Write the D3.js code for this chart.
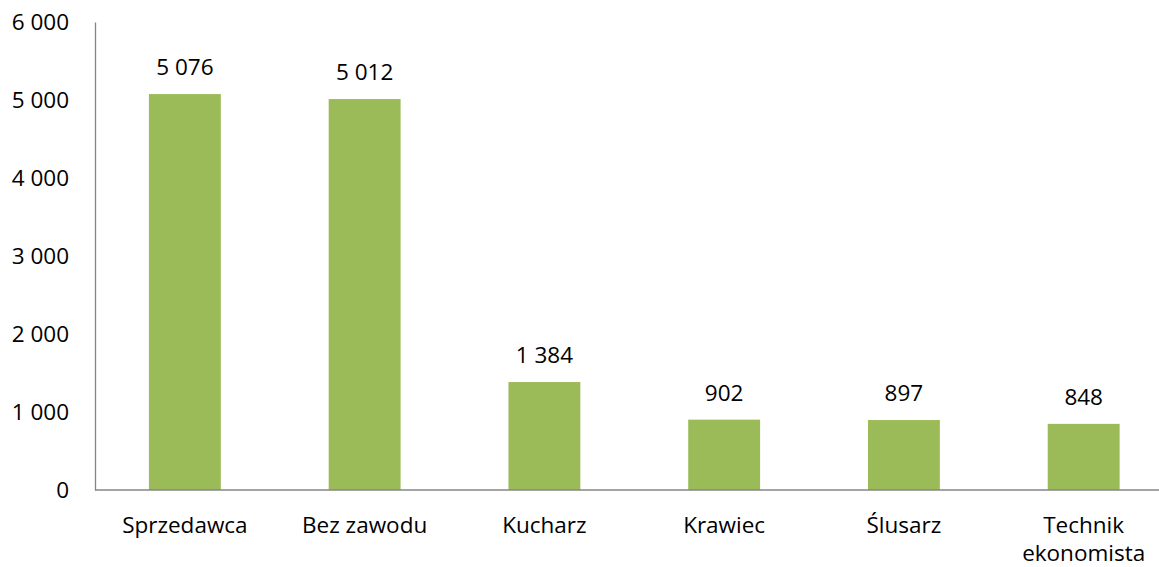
<!DOCTYPE html>
<html><head><meta charset="utf-8">
<script src="https://cdn.jsdelivr.net/npm/d3@7"></script>
<style>body{margin:0;background:#fff}svg{display:block}text{font-family:"Open Sans",Lato,sans-serif;fill:#000}</style>
</head><body><svg id="c" width="1159" height="567"></svg>
<script>
const categories = ["Sprzedawca","Bez zawodu","Kucharz","Krawiec","Ślusarz","Technik ekonomista"];
const values = [5076,5012,1384,902,897,848];
const yTicks = [0,1000,2000,3000,4000,5000,6000];

const svg = d3.select("#c");
const fmt = v => d3.format(",")(v).replace(/,/g," ");
const x = d3.scaleBand().domain(categories).range([95, 95+6*179.76]).paddingInner(0.6).paddingOuter(0.3);
const y = d3.scaleLinear().domain([0,6000]).range([490,22]);
const fs = 22.5;

svg.selectAll("rect.bar").data(values).enter().append("rect")
  .attr("x",(d,i)=>x(categories[i])).attr("width",x.bandwidth())
  .attr("y",d=>y(d)).attr("height",d=>y(0)-y(d)).attr("fill","#9BBB59");

const ya = svg.append("g").attr("transform","translate(95,0)")
  .call(d3.axisLeft(y).tickValues(yTicks).tickSize(0).tickPadding(26).tickFormat(fmt));
ya.select(".domain").attr("stroke","#868686").attr("stroke-width",1.3);
ya.selectAll("text").style("font-size",fs+"px").attr("dy","0.35em");

svg.append("line").attr("x1",95).attr("x2",1159).attr("y1",y(0)).attr("y2",y(0))
  .attr("stroke","#868686").attr("stroke-width",1.3);

svg.selectAll("text.val").data(values).enter().append("text")
  .attr("class","val").attr("text-anchor","middle")
  .attr("x",(d,i)=>x(categories[i])+x.bandwidth()/2)
  .attr("y",d=>y(d)-27).attr("dy","0.35em").style("font-size",fs+"px").text(fmt);

categories.forEach((c,i)=>{
  const words = c === "Technik ekonomista" ? ["Technik","ekonomista"] : [c];
  const t = svg.append("text").attr("text-anchor","middle").style("font-size",fs+"px")
    .attr("x",x(c)+x.bandwidth()/2).attr("y",533);
  words.forEach((w,j)=>t.append("tspan").attr("x",x(c)+x.bandwidth()/2).attr("dy",j?28:0).text(w));
});
</script></body></html>
